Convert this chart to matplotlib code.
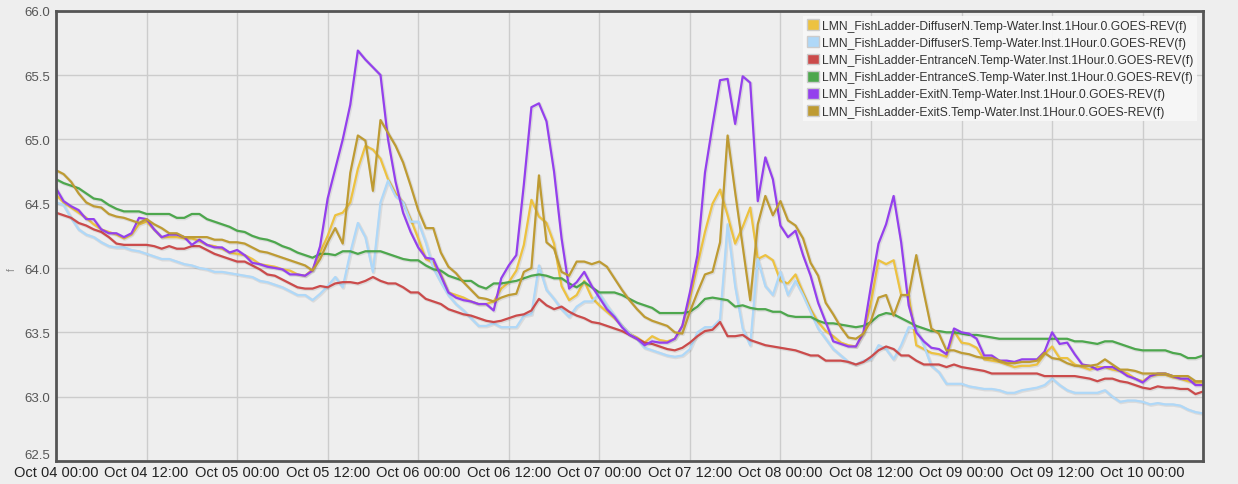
import numpy as np
import pandas as pd
import matplotlib
matplotlib.use("Agg")
import matplotlib.pyplot as plt
import matplotlib.dates as mdates
import matplotlib.patches as mpatches
import matplotlib.patheffects as pe

# hourly readings, Oct 04 00:00 -> Oct 10 08:00
times = pd.date_range("2023-10-04 00:00", periods=153, freq="h")

diffuser_n = [
    64.57, 64.51, 64.47, 64.43, 64.39, 64.34, 64.30, 64.28, 64.26, 64.23, 64.26, 64.34, 64.36, 64.30, 64.24, 64.24,
    64.24, 64.23, 64.23, 64.21, 64.18, 64.17, 64.15, 64.12, 64.11, 64.10,
    64.07, 64.03, 64.02, 64.01, 63.99, 63.98, 63.95, 63.94, 63.99, 64.12, 64.25, 64.41, 64.43, 64.51, 64.77, 64.95,
    64.92, 64.85, 64.69, 64.58, 64.51, 64.38, 64.23, 64.07, 64.04, 63.95,
    63.81, 63.79, 63.77, 63.74, 63.72, 63.72, 63.74, 63.84, 63.89, 63.98, 64.18, 64.53, 64.40, 64.35, 64.19, 63.86,
    63.75, 63.79, 63.90, 63.77, 63.71, 63.66, 63.61, 63.55, 63.49,
    63.46, 63.42, 63.47, 63.44, 63.43, 63.45, 63.55, 63.76, 64.02, 64.28, 64.50, 64.61, 64.41, 64.19, 64.32, 64.47,
    64.07, 64.10, 64.06, 63.90, 63.88, 63.95, 63.81, 63.68, 63.58,
    63.51, 63.47, 63.42, 63.40, 63.39, 63.49, 63.73, 64.06, 64.03, 64.06, 63.79, 63.79, 63.40, 63.37, 63.34, 63.33,
    63.31, 63.51, 63.42, 63.41, 63.38, 63.29, 63.28, 63.27, 63.25,
    63.23, 63.24, 63.24, 63.25, 63.33, 63.39, 63.30, 63.30, 63.25, 63.23, 63.21, 63.23, 63.23, 63.21, 63.20, 63.18,
    63.14, 63.12, 63.16, 63.17, 63.17, 63.15, 63.14, 63.12, 63.11, 63.11,
]
diffuser_s = [
    64.51, 64.49, 64.39, 64.30, 64.26, 64.24, 64.20, 64.17, 64.16, 64.16, 64.14, 64.13, 64.11, 64.09, 64.07, 64.07,
    64.05, 64.03, 64.02, 64.00, 63.99, 63.97, 63.97, 63.96, 63.95, 63.94,
    63.93, 63.90, 63.89, 63.87, 63.85, 63.82, 63.79, 63.79, 63.75, 63.80, 63.86, 63.93, 63.85, 64.12, 64.35, 64.24,
    63.97, 64.51, 64.68, 64.56, 64.51, 64.36, 64.36, 64.20, 64.00, 63.89,
    63.79, 63.72, 63.67, 63.61, 63.55, 63.55, 63.57, 63.54, 63.54, 63.54, 63.63, 63.64, 64.02, 63.83, 63.76, 63.68,
    63.62, 63.70, 63.74, 63.74, 63.80, 63.71, 63.63, 63.55, 63.49,
    63.45, 63.38, 63.36, 63.34, 63.32, 63.31, 63.32, 63.37, 63.50, 63.54, 63.54, 63.60, 64.34, 63.86, 63.53, 63.40,
    64.07, 63.86, 63.79, 63.97, 63.79, 63.90, 63.79, 63.66, 63.53,
    63.45, 63.37, 63.32, 63.27, 63.25, 63.28, 63.29, 63.40, 63.37, 63.29, 63.40, 63.54, 63.53, 63.40, 63.24, 63.19,
    63.10, 63.10, 63.10, 63.08, 63.07, 63.06, 63.06, 63.05, 63.03,
    63.03, 63.05, 63.06, 63.07, 63.09, 63.14, 63.09, 63.05, 63.03, 63.03, 63.03, 63.03, 63.05, 63.00, 62.96, 62.97,
    62.97, 62.96, 62.94, 62.95, 62.94, 62.94, 62.93, 62.90, 62.88, 62.87,
]
entrance_n = [
    64.43, 64.41, 64.39, 64.35, 64.33, 64.30, 64.28, 64.24, 64.19, 64.18, 64.18, 64.18, 64.18, 64.17, 64.15, 64.17,
    64.15, 64.15, 64.17, 64.17, 64.14, 64.11, 64.09, 64.07, 64.05, 64.05,
    64.02, 63.99, 63.95, 63.94, 63.91, 63.88, 63.85, 63.84, 63.84, 63.86, 63.85, 63.88, 63.89, 63.89, 63.88, 63.90,
    63.93, 63.90, 63.88, 63.88, 63.85, 63.81, 63.81, 63.76, 63.74, 63.72,
    63.68, 63.66, 63.64, 63.63, 63.61, 63.59, 63.58, 63.59, 63.61, 63.63, 63.64, 63.67, 63.76, 63.71, 63.68, 63.70,
    63.66, 63.63, 63.61, 63.58, 63.57, 63.55, 63.53, 63.51, 63.48,
    63.45, 63.42, 63.41, 63.39, 63.37, 63.36, 63.38, 63.42, 63.47, 63.51, 63.52, 63.58, 63.47, 63.47, 63.48, 63.44,
    63.42, 63.40, 63.39, 63.38, 63.37, 63.36, 63.34, 63.32, 63.32,
    63.28, 63.28, 63.28, 63.27, 63.25, 63.27, 63.31, 63.36, 63.39, 63.37, 63.32, 63.32, 63.28, 63.25, 63.25, 63.25,
    63.23, 63.25, 63.23, 63.22, 63.21, 63.20, 63.18, 63.18, 63.18,
    63.18, 63.18, 63.18, 63.18, 63.16, 63.16, 63.16, 63.16, 63.16, 63.15, 63.14, 63.12, 63.14, 63.14, 63.12, 63.11,
    63.09, 63.07, 63.06, 63.08, 63.07, 63.07, 63.06, 63.06, 63.02, 63.04,
]
entrance_s = [
    64.69, 64.66, 64.64, 64.62, 64.58, 64.54, 64.53, 64.49, 64.46, 64.44, 64.44, 64.44, 64.42, 64.42, 64.42, 64.42,
    64.39, 64.39, 64.42, 64.42, 64.38, 64.36, 64.34, 64.32, 64.29, 64.28,
    64.25, 64.23, 64.22, 64.20, 64.17, 64.15, 64.12, 64.10, 64.08, 64.11, 64.11, 64.10, 64.13, 64.13, 64.11, 64.13,
    64.13, 64.13, 64.11, 64.09, 64.07, 64.06, 64.06, 64.02, 63.99, 63.98,
    63.94, 63.92, 63.90, 63.90, 63.86, 63.84, 63.88, 63.88, 63.89, 63.90, 63.92, 63.94, 63.95, 63.94, 63.92, 63.92,
    63.88, 63.85, 63.89, 63.85, 63.81, 63.81, 63.81, 63.79, 63.76,
    63.73, 63.71, 63.69, 63.65, 63.65, 63.65, 63.65, 63.66, 63.70, 63.76, 63.77, 63.76, 63.75, 63.70, 63.71, 63.69,
    63.68, 63.68, 63.66, 63.66, 63.63, 63.62, 63.62, 63.62, 63.59,
    63.57, 63.57, 63.56, 63.55, 63.54, 63.55, 63.58, 63.63, 63.65, 63.64, 63.61, 63.58, 63.55, 63.53, 63.51, 63.51,
    63.50, 63.50, 63.49, 63.48, 63.48, 63.47, 63.46, 63.45, 63.45,
    63.45, 63.45, 63.45, 63.45, 63.45, 63.45, 63.45, 63.45, 63.43, 63.43, 63.42, 63.41, 63.43, 63.43, 63.41, 63.39,
    63.37, 63.36, 63.36, 63.36, 63.36, 63.34, 63.33, 63.30, 63.30, 63.32,
]
exit_n = [
    64.62, 64.52, 64.48, 64.45, 64.38, 64.38, 64.30, 64.27, 64.27, 64.24, 64.27, 64.39, 64.38, 64.30, 64.24, 64.26,
    64.26, 64.24, 64.18, 64.22, 64.18, 64.16, 64.16, 64.12, 64.14, 64.10,
    64.04, 64.03, 64.01, 64.00, 63.99, 63.95, 63.95, 63.94, 63.98, 64.17, 64.54, 64.77, 65.00, 65.27, 65.69, 65.62,
    65.56, 65.50, 65.00, 64.67, 64.43, 64.28, 64.16, 64.08, 64.07, 63.94,
    63.81, 63.77, 63.75, 63.74, 63.72, 63.72, 63.67, 63.92, 64.02, 64.10, 64.65, 65.25, 65.28, 65.14, 64.75, 64.23,
    63.84, 63.89, 63.97, 63.86, 63.77, 63.68, 63.62, 63.54, 63.48,
    63.45, 63.40, 63.43, 63.42, 63.42, 63.45, 63.55, 63.81, 64.10, 64.74, 65.11, 65.46, 65.47, 65.12, 65.49, 65.44,
    64.52, 64.86, 64.69, 64.33, 64.24, 64.29, 64.10, 63.94, 63.73,
    63.58, 63.43, 63.41, 63.39, 63.39, 63.50, 63.86, 64.19, 64.34, 64.56, 64.20, 63.71, 63.50, 63.43, 63.38, 63.37,
    63.33, 63.53, 63.50, 63.49, 63.45, 63.32, 63.32, 63.28, 63.28,
    63.27, 63.29, 63.29, 63.29, 63.35, 63.50, 63.41, 63.42, 63.33, 63.25, 63.24, 63.21, 63.23, 63.23, 63.20, 63.16,
    63.14, 63.11, 63.16, 63.18, 63.18, 63.16, 63.14, 63.14, 63.09, 63.09,
]
exit_s = [
    64.76, 64.73, 64.67, 64.58, 64.51, 64.48, 64.47, 64.42, 64.40, 64.39, 64.37, 64.35, 64.38, 64.34, 64.31, 64.27,
    64.27, 64.24, 64.24, 64.24, 64.24, 64.22, 64.22, 64.20, 64.20, 64.19,
    64.16, 64.13, 64.12, 64.10, 64.08, 64.06, 64.04, 64.02, 63.98, 64.07, 64.20, 64.31, 64.19, 64.74, 65.03, 64.99,
    64.60, 65.15, 65.05, 64.95, 64.82, 64.64, 64.45, 64.31, 64.31, 64.12,
    64.01, 63.96, 63.89, 63.83, 63.77, 63.76, 63.74, 63.77, 63.79, 63.80, 63.97, 64.00, 64.72, 64.20, 64.15, 63.97,
    63.94, 64.05, 64.05, 64.03, 64.05, 64.01, 63.92, 63.83, 63.75,
    63.68, 63.62, 63.59, 63.57, 63.55, 63.50, 63.49, 63.66, 63.81, 63.95, 63.97, 64.20, 65.03, 64.59, 64.17, 63.75,
    64.34, 64.56, 64.41, 64.52, 64.37, 64.33, 64.23, 64.04, 63.94,
    63.73, 63.64, 63.54, 63.46, 63.45, 63.49, 63.59, 63.77, 63.79, 63.63, 63.79, 63.79, 64.10, 63.81, 63.53, 63.49,
    63.36, 63.36, 63.34, 63.33, 63.31, 63.30, 63.30, 63.28, 63.26,
    63.26, 63.27, 63.27, 63.28, 63.34, 63.30, 63.29, 63.26, 63.24, 63.24, 63.24, 63.25, 63.29, 63.25, 63.21, 63.21,
    63.20, 63.18, 63.18, 63.18, 63.18, 63.16, 63.16, 63.16, 63.12, 63.12,
]

names = [
    "LMN_FishLadder-DiffuserN.Temp-Water.Inst.1Hour.0.GOES-REV(f)",
    "LMN_FishLadder-DiffuserS.Temp-Water.Inst.1Hour.0.GOES-REV(f)",
    "LMN_FishLadder-EntranceN.Temp-Water.Inst.1Hour.0.GOES-REV(f)",
    "LMN_FishLadder-EntranceS.Temp-Water.Inst.1Hour.0.GOES-REV(f)",
    "LMN_FishLadder-ExitN.Temp-Water.Inst.1Hour.0.GOES-REV(f)",
    "LMN_FishLadder-ExitS.Temp-Water.Inst.1Hour.0.GOES-REV(f)",
]
series = [diffuser_n, diffuser_s, entrance_n, entrance_s, exit_n, exit_s]
colors = ["#edc240", "#afd8f8", "#cb4b4b", "#4da74d", "#9440ed", "#be9b33"]

plt.rcParams["font.family"] = ["Liberation Sans", "DejaVu Sans"]

bg = "#eeeeee"
fig = plt.figure(figsize=(12.38, 4.85), dpi=100, facecolor=bg)
ax = fig.add_axes([56 / 1238, 1 - 462 / 485, (1203 - 56) / 1238, (462 - 11.7) / 485])
ax.set_facecolor(bg)

shadow = [pe.SimpleLineShadow(offset=(0.6, -0.6), shadow_color="k", alpha=0.08, linewidth=2.4), pe.Normal()]
for vals, c in zip(series, colors):
    ax.plot(times, vals, color=c, lw=1.6, solid_joinstyle="round", path_effects=shadow)

ax.set_xlim(times[0], times[-1])
ax.set_ylim(62.5, 66.0)
ax.set_yticks(np.arange(62.5, 66.01, 0.5))
ax.yaxis.set_major_formatter(plt.FormatStrFormatter("%.1f"))
ax.xaxis.set_major_locator(mdates.HourLocator(byhour=[0, 12]))
ax.xaxis.set_major_formatter(mdates.DateFormatter("%b %d %H:%M"))
ax.grid(True, color="#cccccc", lw=1)
ax.set_axisbelow(True)
ax.tick_params(length=0, pad=4)
ax.tick_params(axis="x", labelsize=10.5, labelcolor="#222222", pad=3)
ax.tick_params(axis="y", labelsize=9.5, labelcolor="#555555", pad=4)
# lowest y label sits just above the x labels, as in the original
ax.get_yticklabels()[0].set_verticalalignment("bottom")
for s in ax.spines.values():
    s.set_color("#555555")
    s.set_linewidth(2)

fig.text(12 / 1238, 1 - 270 / 485, "f", rotation=90, fontsize=7, color="#888888", ha="center", va="center")

handles = [mpatches.Patch(facecolor=c, edgecolor="#cccccc", lw=1) for c in colors]
leg = ax.legend(handles, names, loc="upper right", bbox_to_anchor=(1 - 6 / 1147, 1 - 5 / 450),
                borderaxespad=0, fontsize=8.7, frameon=True, fancybox=False,
                handlelength=1.0, handleheight=1.0, handletextpad=0.25, labelspacing=0.38,
                borderpad=0.3, labelcolor="#333333")
leg.get_frame().set_facecolor("#f8f8f8")
leg.get_frame().set_edgecolor("none")
leg.get_frame().set_alpha(0.9)

fig.savefig("out.png", dpi=100, facecolor=bg)
